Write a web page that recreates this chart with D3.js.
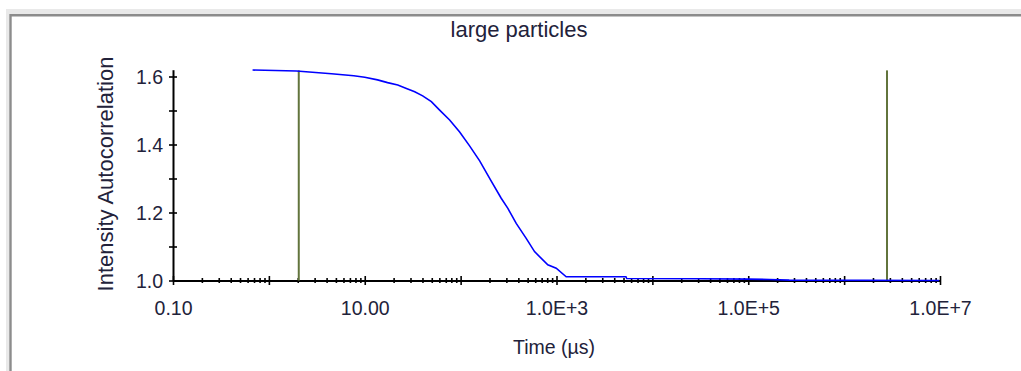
<!DOCTYPE html>
<html>
<head>
<meta charset="utf-8">
<script src="https://cdnjs.cloudflare.com/ajax/libs/d3/7.8.5/d3.min.js"></script>
<style>
  body { margin: 0; background: #ffffff; }
  svg text { font-family: "Liberation Sans", Arial, sans-serif; fill: #22223a; }
</style>
</head>
<body>
<div id="chart"></div>
<script>
// correlation curve (time in µs)
var timeUs = [0.676, 1.94, 4.5, 7.68, 10.0, 13.6, 17.3, 22.1, 27.2, 33.2, 40.2, 49.5, 60.4, 76.8,
  97.7, 124, 158, 205, 265, 311, 380, 483, 590, 811, 993, 1262, 5300, 5400, 3.09e4, 9.8e4,
  1.66e5, 2.67e5, 9.8e6];
var g2 = [1.619, 1.616, 1.608, 1.602, 1.598, 1.590, 1.582, 1.575, 1.565, 1.555, 1.543, 1.526,
  1.501, 1.472, 1.437, 1.396, 1.352, 1.296, 1.242, 1.212, 1.168, 1.124, 1.085, 1.046, 1.036,
  1.011, 1.011, 1.006, 1.005, 1.004, 1.003, 1.001, 1.000];

// fit range markers
var markerTimes = [2.05, 2.8e6];
var markerTop = 1.618;

var yTicks = [1.0, 1.2, 1.4, 1.6];
var yMinorTicks = [1.1, 1.3, 1.5];
var xLabelTicks = [0.1, 10, 1000, 1e5, 1e7];
var xTickLabels = ['0.10', '10.00', '1.0E+3', '1.0E+5', '1.0E+7'];

var chartTitle = 'large particles';
var xTitle = 'Time (µs)';
var yTitle = 'Intensity Autocorrelation';

function getChart(params) {
    var attrs = {
        svgWidth: 1021,
        svgHeight: 371,
        plotLeft: 173,
        plotRight: 940,
        plotTop: 69.7,
        plotBottom: 280.5,
        lineColor: '#0000ff',
        markerColor: '#62743c'
    };

    Object.keys(attrs).forEach(function (key) {
        if (params && params[key]) {
            attrs[key] = params[key];
        }
    });

    var main = function (selection) {
        selection.each(function () {

            var svg = d3.select(this)
                .append('svg')
                .attr('width', attrs.svgWidth)
                .attr('height', attrs.svgHeight);

            // window frame
            svg.append('rect')
                .attr('x', 6).attr('y', 9)
                .attr('width', attrs.svgWidth).attr('height', attrs.svgHeight)
                .attr('fill', '#e9e9e9');
            svg.append('rect')
                .attr('x', 9.5).attr('y', 14)
                .attr('width', attrs.svgWidth).attr('height', attrs.svgHeight)
                .attr('fill', '#ffffff');
            svg.append('path')
                .attr('d', 'M10.5,' + attrs.svgHeight + 'V15.2H' + attrs.svgWidth)
                .attr('fill', 'none')
                .attr('stroke', '#8c8c8c')
                .attr('stroke-width', 2.4);

            // scales
            var x = d3.scaleLog()
                .domain([0.1, 1e7])
                .range([attrs.plotLeft, attrs.plotRight]);

            var y = d3.scaleLinear()
                .domain([1.0, 1.62])
                .range([attrs.plotBottom, attrs.plotTop]);

            // x axis: decades plus 2..9 minors
            var xAllTicks = [];
            for (var e = -1; e < 7; e++) {
                for (var m = 1; m < 10; m++) {
                    xAllTicks.push(m * Math.pow(10, e));
                }
            }
            xAllTicks.push(1e7);

            var xAxis = d3.axisBottom(x)
                .tickValues(xAllTicks)
                .tickSizeOuter(0)
                .tickPadding(0)
                .tickFormat(function (d) {
                    var i = xLabelTicks.findIndex(function (v) { return Math.abs(v - d) / v < 1e-6; });
                    return i >= 0 ? xTickLabels[i] : '';
                });

            var gx = svg.append('g')
                .attr('transform', 'translate(0,' + attrs.plotBottom + ')')
                .call(xAxis);

            gx.select('.domain').attr('stroke', '#000').attr('stroke-width', 2);
            gx.selectAll('.tick line')
                .attr('stroke', '#000')
                .attr('stroke-width', 1.6)
                .attr('y1', function (d) { return isDecade(d) ? -4.5 : -2.5; })
                .attr('y2', function (d) { return isDecade(d) ? 4.5 : 2.5; });
            gx.selectAll('.tick text')
                .attr('y', 34)
                .attr('dy', 0)
                .style('font-size', '19.5px')
                .style('font-family', '"Liberation Sans", Arial, sans-serif')
                .attr('fill', '#22223a');

            function isDecade(d) {
                var l = Math.log10(d);
                return Math.abs(l - Math.round(l)) < 1e-6;
            }

            // y axis
            var yAxis = d3.axisLeft(y)
                .tickValues(yTicks.concat(yMinorTicks))
                .tickSizeOuter(0)
                .tickPadding(0)
                .tickFormat(function (d) {
                    return yTicks.indexOf(d) >= 0 ? d3.format('.1f')(d) : '';
                });

            var gy = svg.append('g')
                .attr('transform', 'translate(' + attrs.plotLeft + ',0)')
                .call(yAxis);

            gy.select('.domain').attr('stroke', '#000').attr('stroke-width', 2);
            gy.selectAll('.tick line')
                .attr('stroke', '#000')
                .attr('stroke-width', 1.6)
                .attr('x1', -4)
                .attr('x2', 4);
            gy.selectAll('.tick text')
                .attr('x', -10)
                .attr('dy', '0.35em')
                .style('font-size', '19.5px')
                .style('font-family', '"Liberation Sans", Arial, sans-serif')
                .attr('fill', '#22223a');

            // fit range markers
            svg.append('g')
                .selectAll('line')
                .data(markerTimes)
                .enter()
                .append('line')
                .attr('x1', function (d) { return x(d); })
                .attr('x2', function (d) { return x(d); })
                .attr('y1', y(markerTop))
                .attr('y2', y(1.0))
                .attr('stroke', attrs.markerColor)
                .attr('stroke-width', 2);

            // correlation curve
            var points = timeUs.map(function (t, i) { return [t, g2[i]]; });
            var line = d3.line()
                .x(function (d) { return x(d[0]); })
                .y(function (d) { return y(d[1]); });

            svg.append('path')
                .datum(points)
                .attr('d', line)
                .attr('fill', 'none')
                .attr('stroke', attrs.lineColor)
                .attr('stroke-width', 1.6);

            // titles
            svg.append('text')
                .attr('x', 519)
                .attr('y', 37)
                .attr('text-anchor', 'middle')
                .style('font-size', '22px')
                .text(chartTitle);

            svg.append('text')
                .attr('x', 554)
                .attr('y', 354)
                .attr('text-anchor', 'middle')
                .style('font-size', '19.5px')
                .text(xTitle);

            svg.append('text')
                .attr('transform', 'translate(113,174) rotate(-90)')
                .attr('text-anchor', 'middle')
                .style('font-size', '22px')
                .text(yTitle);
        });
    };

    return main;
}

var chart = getChart({});
d3.select('#chart').call(chart);
</script>
</body>
</html>
